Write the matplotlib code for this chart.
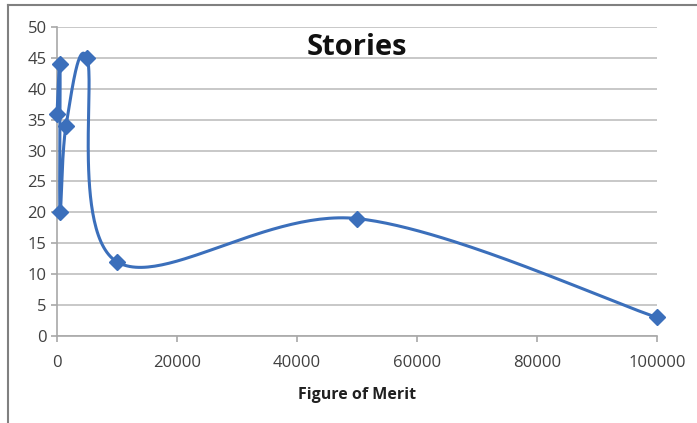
import numpy as np
import matplotlib.pyplot as plt
from matplotlib.lines import Line2D

# data (in plotted order)
merit = [0, 500, 500, 1500, 5000, 10000, 50000, 100000]
stories = [36, 44, 20, 34, 45, 12, 19, 3]

x_ticks = [0, 20000, 40000, 60000, 80000, 100000]
y_ticks = list(range(0, 55, 5))

blue = "#3b6fbb"
grid_gray = "#c4c4c4"
text_gray = "#404040"
plt.rcParams['font.family'] = ['Open Sans', 'DejaVu Sans']


def smooth(xs, ys, xr, yr, n=60):
    # Excel-like smoothed line: Catmull-Rom as cubic Bezier in screen space
    p = np.column_stack([np.asarray(xs, float) / xr, np.asarray(ys, float) / yr])
    out = []
    for i in range(len(p) - 1):
        p0 = p[i - 1] if i > 0 else p[i]
        p3 = p[i + 2] if i + 2 < len(p) else p[i + 1]
        c1 = p[i] + (p[i + 1] - p0) / 6
        c2 = p[i + 1] - (p3 - p[i]) / 6
        t = np.linspace(0, 1, n)[:, None]
        seg = ((1 - t) ** 3 * p[i] + 3 * (1 - t) ** 2 * t * c1
               + 3 * (1 - t) * t ** 2 * c2 + t ** 3 * p[i + 1])
        out.append(seg)
    out = np.vstack(out)
    return out[:, 0] * xr, out[:, 1] * yr


fig = plt.figure(figsize=(6.97, 4.23), dpi=100)
ax = fig.add_axes([0.0818, 0.2057, 0.8608, 0.7305])

# screen aspect: 600 px wide for 100000, 309 px tall for 50
sx, sy = smooth(merit, stories, 100000 / 600, 50 / 309)
ax.plot(sx, sy, color=blue, lw=2.2, solid_capstyle='round', zorder=3,
        clip_on=False)
ax.plot(merit, stories, linestyle='none', marker='D', markersize=8,
        color=blue, zorder=4, clip_on=False)

ax.set_xlim(0, 100000)
ax.set_ylim(0, 50)
ax.set_xticks(x_ticks)
ax.set_yticks(y_ticks)
ax.yaxis.grid(True, color=grid_gray, lw=1.3)
ax.set_axisbelow(True)
for s in ['top', 'right']:
    ax.spines[s].set_visible(False)
for s in ['left', 'bottom']:
    ax.spines[s].set_color('#a8a8a8')
    ax.spines[s].set_linewidth(1.2)
ax.tick_params(axis='both', colors='#a8a8a8', labelcolor=text_gray,
               labelsize=12, length=4, width=1.2)
ax.tick_params(axis='x', pad=10)

ax.set_xlabel("Figure of Merit", fontsize=11.5, fontweight='bold',
              color='#202020', labelpad=11)
ax.text(0.5, 0.935, "Stories", transform=ax.transAxes, ha='center',
        va='center', fontsize=21, fontweight='bold', color='#111111')

# chart frame (left and top edges visible)
fig.add_artist(Line2D([7.5 / 697, 7.5 / 697], [0, 1 - 5 / 423],
                      transform=fig.transFigure, color='#808080', lw=1.5))
fig.add_artist(Line2D([7.5 / 697, 1], [1 - 5 / 423, 1 - 5 / 423],
                      transform=fig.transFigure, color='#808080', lw=1.5))

fig.savefig("out.png", dpi=100)
